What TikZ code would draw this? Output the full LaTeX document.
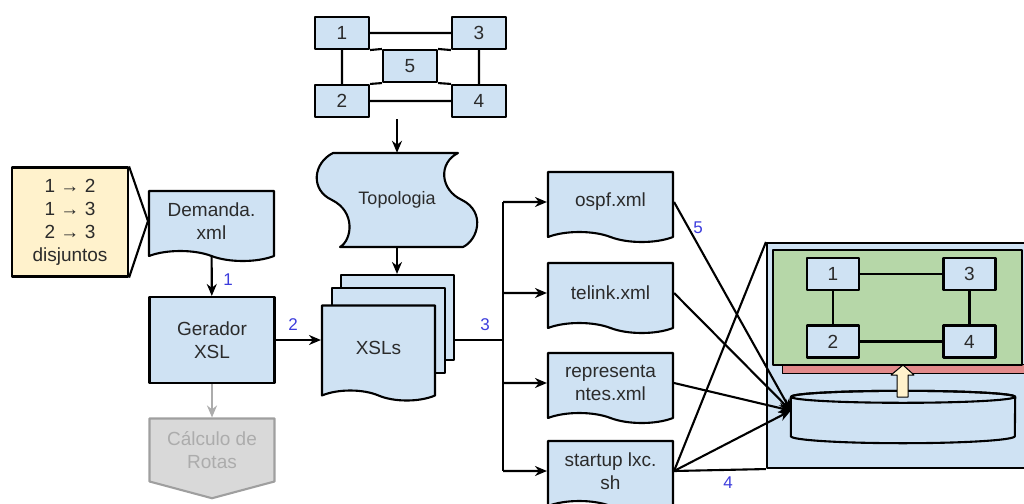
\documentclass[tikz,border=0pt]{standalone}
\usepackage{fontspec}
\setmainfont{Liberation Sans}
\usetikzlibrary{shapes.symbols,arrows.meta}

\begin{document}
\begin{tikzpicture}
  [x=1pt,y=-1pt,line join=round,
  % Styles
  box/.style={draw,fill=boxblue,line width=2.1pt,align=center,text=textgray,
    font=\fontsize{19}{23}\selectfont,inner sep=0pt},
  doc/.style={box,tape,tape bend top=none,tape bend bottom=out and in,
    tape bend height=10pt,minimum width=125pt,minimum height=70pt},
  sheet/.style={box,minimum width=113pt,minimum height=85pt},
  router/.style={box,minimum width=54pt,minimum height=32pt},
  link/.style={line width=2.1pt},
  flow/.style={link,-{Stealth[length=12pt,width=10pt]}},
  num label/.style={text=numblue,font=\fontsize{17}{20}\selectfont}]
  % Colors
  \definecolor{boxblue}{HTML}{CFE2F3}
  \definecolor{textgray}{HTML}{2B2B2B}
  \definecolor{numblue}{HTML}{3C3CDC}
  \definecolor{noteyellow}{HTML}{FFF2CC}
  \definecolor{vmgreen}{HTML}{B6D7A8}
  \definecolor{stripred}{HTML}{E28A8A}
  \useasboundingbox (0,0) rectangle (1024,503);
  \clip (0,0) rectangle (1024,503);
  % Topology sketch
  \node[router] (n1) at (342,33) {1};
  \node[router] (n3) at (479,33) {3};
  \node[router] (n5) at (410,66) {5};
  \node[router] (n2) at (342,101) {2};
  \node[router] (n4) at (479,101) {4};
  \draw[link] (n1) -- (n3) (n2) -- (n4) (n1) -- (n2) (n3) -- (n4)
    (n1.south east) -- (n5.north west) (n3.south west) -- (n5.north east)
    (n5.south west) -- (n2.north east) (n5.south east) -- (n4.north west);
  \coordinate (netout) at (397,119);
  % punched tape drawn by hand
  \draw[fill=boxblue,line width=2.1pt] (333,153) -- (458,153)
    .. controls (438,163) and (440,190) .. (462,200)
    .. controls (486,212) and (478,240) .. (463,247) -- (340,247)
    .. controls (352,240) and (356,212) .. (332,200)
    .. controls (310,190) and (313,163) .. (333,153) -- cycle;
  \node[text=textgray,font=\fontsize{18}{22}\selectfont,minimum width=150pt,
    minimum height=94pt,inner sep=0pt] (topo) at (397,200) {Topologia};
  \draw[flow] (netout) -- (topo);
  % XSL stack
  \node[sheet] (xslback2) at (397.5,317.5) {};
  \node[sheet] (xslback1) at (388.5,330.5) {};
  \node[doc,minimum width=113pt,minimum height=95pt] (xsls) at (378.5,348) {XSLs};
  \draw[flow] (topo.south) -- (topo.south |- xslback2.north);
  % Demand side
  \node[box,fill=noteyellow,minimum width=116pt,minimum height=109pt]
    (pairs) at (70,222) {1 → 2\\1 → 3\\2 → 3\\disjuntos};
  \node[doc] (demanda) at (211.5,221) {Demanda.\\xml};
  \draw[link] (pairs.north east) -- (demanda.west) -- (pairs.south east);
  \node[box,minimum width=125pt,minimum height=86pt] (gerador) at (212,340) {Gerador\\XSL};
  \node[box,signal,signal to=south,signal from=nowhere,signal pointer angle=150,
    fill=gray!30,draw=gray!75,text=gray!65,minimum width=125pt,minimum height=75pt]
    (calculo) at (212,450) {Cálculo de\\Rotas};
  \draw[flow] (demanda) -- (gerador);
  \draw[flow,draw=gray!65] (gerador) -- (calculo);
  \draw[flow] (gerador.east) -- (gerador.east -| xsls.west);
  \node[num label] at (228,280) {1};
  \node[num label] at (293,325) {2};
  % Generated files
  \node[doc] (ospf) at (610.5,202) {ospf.xml};
  \node[doc] (telink) at (610.5,293) {telink.xml};
  \node[doc] (repr) at (610.5,383) {representa\\ntes.xml};
  \node[doc] (startup) at (610.5,471) {startup lxc.\\sh};
  \coordinate (split) at (503,340);
  \draw[link] (xslback2.east |- split) -- (split);
  \draw[link] (split |- ospf) -- (split |- startup);
  \foreach \doc in {ospf,telink,repr,startup}
    \draw[flow] (split |- \doc) -- (\doc);
  \node[num label] at (485,325) {3};
  % Host machine
  \node[box,minimum width=290pt,minimum height=225pt] (host) at (912,355.5) {};
  \node[draw,fill=stripred,line width=1pt,minimum width=270pt,minimum height=9pt,
    inner sep=0pt] (strip) at (917,369) {};
  \node[box,fill=vmgreen,minimum width=249pt,minimum height=115pt] (vm) at (897.5,307.5) {};
  \node[router,minimum width=52pt] (g1) at (833,274) {1};
  \node[router,minimum width=52pt] (g3) at (969.5,274) {3};
  \node[router,minimum width=52pt] (g2) at (833,341.5) {2};
  \node[router,minimum width=52pt] (g4) at (969.5,341.5) {4};
  \draw[link] (g1) -- (g3) (g2) -- (g4) (g1) -- (g2) (g3) -- (g4);
  \node[minimum width=224pt,minimum height=39pt,inner sep=0pt] (disk) at (903,416.5) {};
  \path[fill=boxblue,draw,line width=2.1pt] (disk.north west) -- (disk.south west)
    arc[start angle=180,end angle=360,x radius=112pt,y radius=7pt] -- (disk.north east)
    arc[start angle=0,end angle=180,x radius=112pt,y radius=6pt] -- cycle;
  \draw[line width=2.1pt] (disk.north) ellipse [x radius=112pt,y radius=6pt];
  \draw[fill=noteyellow,line width=1pt] (897,397) -- (897,375) -- (891,375) -- (903,365)
    -- (914,375) -- (908,375) -- (908,397) -- cycle;
  \foreach \doc in {ospf,telink,repr,startup}
    \draw[flow] (\doc.east) -- (disk.177);
  \draw[link] (startup.east) -- (host.north west);
  \draw[link] (startup.east) -- (host.south west);
  \node[num label] at (698,228) {5};
  \node[num label] at (728,483) {4};
\end{tikzpicture}
\end{document}
